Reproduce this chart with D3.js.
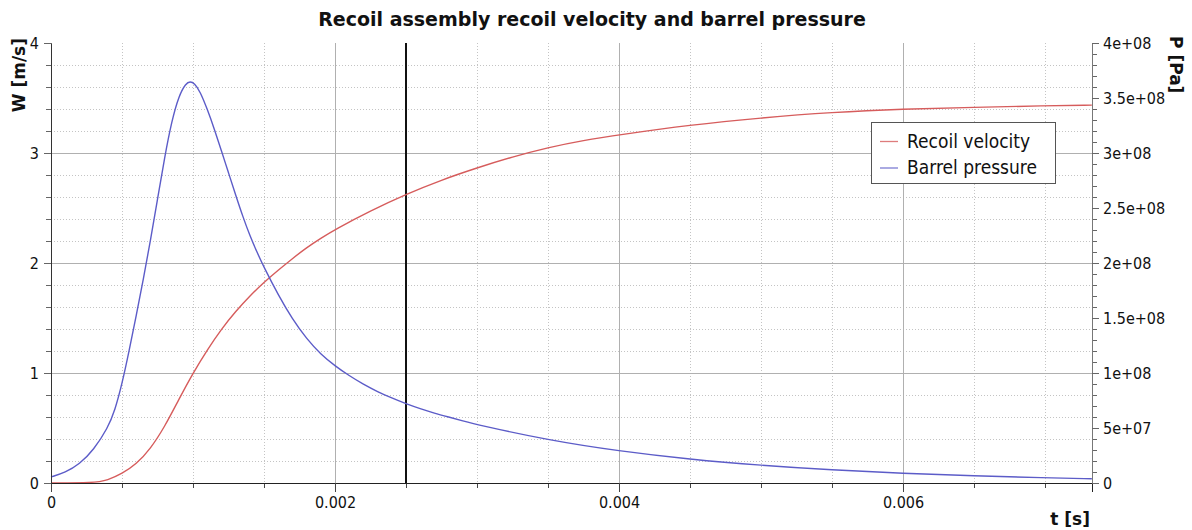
<!DOCTYPE html>
<html>
<head>
<meta charset="utf-8">
<script src="https://cdn.jsdelivr.net/npm/d3@7/dist/d3.min.js"></script>
<style>
  html, body { margin: 0; padding: 0; background: #fff; }
  svg { display: block; }
  .cond { font-family: "DejaVu Sans Condensed", "DejaVu Sans", sans-serif; font-stretch: condensed; }
  .bold { font-family: "DejaVu Sans", sans-serif; font-weight: bold; }
</style>
</head>
<body>
<svg id="chart" width="1192" height="530"></svg>
<script>
// ---- data ----
const velTime = [0, 0.0003, 0.0004, 0.0005, 0.0006, 0.0007, 0.0008, 0.0009, 0.001, 0.0011, 0.0012, 0.0013, 0.0014, 0.0015, 0.0016, 0.0017, 0.0018, 0.0019, 0.002, 0.00225, 0.0025, 0.00275, 0.003, 0.00325, 0.0035, 0.00375, 0.004, 0.0045, 0.005, 0.0055, 0.006, 0.0065, 0.007, 0.00733];
const velValues = [0, 0, 0.025, 0.085, 0.17, 0.31, 0.51, 0.76, 1.0, 1.21, 1.40, 1.56, 1.70, 1.825, 1.935, 2.04, 2.14, 2.225, 2.305, 2.475, 2.625, 2.755, 2.865, 2.965, 3.05, 3.115, 3.165, 3.255, 3.32, 3.37, 3.40, 3.415, 3.43, 3.435];

const presTime = [0, 0.0001, 0.0002, 0.0003, 0.0004, 0.00045, 0.0005, 0.00055, 0.0006, 0.00065, 0.0007, 0.00075, 0.0008, 0.00085, 0.0009, 0.00095, 0.00098, 0.00101, 0.00105, 0.0011, 0.00115, 0.0012, 0.00125, 0.0013, 0.00135, 0.0014, 0.00145, 0.0015, 0.0016, 0.0017, 0.0018, 0.0019, 0.002, 0.0021, 0.0022, 0.0023, 0.0024, 0.0025, 0.0026, 0.0027, 0.0028, 0.0029, 0.003, 0.0035, 0.004, 0.0045, 0.005, 0.0055, 0.006, 0.0065, 0.007, 0.00733];
const presValues = [5.5e6, 9.5e6, 1.7e7, 3.0e7, 5.0e7, 6.6e7, 9.0e7, 1.2e8, 1.52e8, 1.85e8, 2.2e8, 2.58e8, 2.96e8, 3.29e8, 3.52e8, 3.635e8, 3.65e8, 3.635e8, 3.56e8, 3.40e8, 3.22e8, 3.02e8, 2.82e8, 2.62e8, 2.425e8, 2.25e8, 2.10e8, 1.96e8, 1.71e8, 1.49e8, 1.31e8, 1.17e8, 1.065e8, 9.75e7, 8.97e7, 8.3e7, 7.72e7, 7.2e7, 6.75e7, 6.35e7, 6.0e7, 5.65e7, 5.3e7, 3.9e7, 2.9e7, 2.15e7, 1.6e7, 1.18e7, 8.8e6, 6.5e6, 4.7e6, 3.8e6];

const markerTime = 0.0025;

const xTicks = [0, 0.002, 0.004, 0.006];
const yLeftTicks = [0, 1, 2, 3, 4];
const yRightTicks = [0, 5e7, 1e8, 1.5e8, 2e8, 2.5e8, 3e8, 3.5e8, 4e8];

const seriesNames = ["Recoil velocity", "Barrel pressure"];
const seriesColors = ["#d65c5c", "#5c5cc8"];

const titleText = "Recoil assembly recoil velocity and barrel pressure";
const xLabel = "t [s]";
const yLeftLabel = "W [m/s]";
const yRightLabel = "P [Pa]";

// ---- layout ----
const L = 51, R = 1092, T = 43, B = 483;
const xMax = 0.007331;

const svg = d3.select("#chart");
svg.append("rect").attr("width", 1192).attr("height", 530).attr("fill", "#fff");

const x = d3.scaleLinear().domain([0, xMax]).range([L, R]);
const yL = d3.scaleLinear().domain([0, 4]).range([B, T]);
const yR = d3.scaleLinear().domain([0, 4e8]).range([B, T]);

const px = v => Math.round(v) + 0.5;

// minor grid
const xMinor = d3.range(1, 15).map(i => i * 0.0005).filter(v => v <= xMax && Math.abs(v / 0.002 - Math.round(v / 0.002)) > 1e-6);
const yMinor = d3.range(1, 20).map(i => i * 0.2).filter(v => Math.abs(v - Math.round(v)) > 1e-6);
const grid = svg.append("g");
grid.selectAll(".vmin").data(xMinor).join("line")
  .attr("x1", d => px(x(d))).attr("x2", d => px(x(d)))
  .attr("y1", T).attr("y2", B)
  .attr("stroke", "#c4c4c4").attr("stroke-dasharray", "1,2");
grid.selectAll(".hmin").data(yMinor).join("line")
  .attr("y1", d => px(yL(d))).attr("y2", d => px(yL(d)))
  .attr("x1", L).attr("x2", R)
  .attr("stroke", "#c4c4c4").attr("stroke-dasharray", "1,2");
// major grid
grid.selectAll(".vmaj").data(xTicks.filter(d => d > 0)).join("line")
  .attr("x1", d => px(x(d))).attr("x2", d => px(x(d)))
  .attr("y1", T).attr("y2", B)
  .attr("stroke", "#b0b0b0");
grid.selectAll(".hmaj").data(yLeftTicks.filter(d => d > 0 && d < 4)).join("line")
  .attr("y1", d => px(yL(d))).attr("y2", d => px(yL(d)))
  .attr("x1", L).attr("x2", R)
  .attr("stroke", "#b0b0b0");

// marker line
svg.append("line")
  .attr("x1", Math.round(x(markerTime))).attr("x2", Math.round(x(markerTime)))
  .attr("y1", T).attr("y2", B)
  .attr("stroke", "#111").attr("stroke-width", 2);

// series
const velData = velTime.map((t, i) => [t, velValues[i]]);
const presData = presTime.map((t, i) => [t, presValues[i]]);
svg.append("path").datum(velData)
  .attr("fill", "none").attr("stroke", seriesColors[0]).attr("stroke-width", 1.4)
  .attr("d", d3.line().x(d => x(d[0])).y(d => yL(d[1])).curve(d3.curveBasis));
svg.append("path").datum(presData)
  .attr("fill", "none").attr("stroke", seriesColors[1]).attr("stroke-width", 1.4)
  .attr("d", d3.line().x(d => x(d[0])).y(d => yR(d[1])).curve(d3.curveBasis));

// axes
function styleAxis(g, lineColor, tickColor) {
  g.select(".domain").attr("stroke", lineColor);
  g.selectAll(".tick line").attr("stroke", tickColor);
  g.selectAll(".tick text").attr("fill", "#111").attr("class", "cond").attr("font-size", 16);
  g.attr("font-family", null).attr("font-size", null);
}

// minor ticks
const xMinorTicks = d3.range(1, 15).map(i => i * 0.0005).filter(v => v <= xMax);
const gxm = svg.append("g").attr("transform", `translate(0,${B})`)
  .call(d3.axisBottom(x).tickValues(xMinorTicks).tickSize(5).tickFormat(""));
gxm.select(".domain").remove(); gxm.selectAll(".tick line").attr("stroke", "#444");
const gylm = svg.append("g").attr("transform", `translate(${L},0)`)
  .call(d3.axisLeft(yL).tickValues(d3.range(0, 21).map(i => i * 0.2)).tickSize(5).tickFormat(""));
gylm.select(".domain").remove(); gylm.selectAll(".tick line").attr("stroke", "#666");
const gyrm = svg.append("g").attr("transform", `translate(${R},0)`)
  .call(d3.axisRight(yR).tickValues(d3.range(0, 41).map(i => i * 1e7)).tickSize(5).tickFormat(""));
gyrm.select(".domain").remove(); gyrm.selectAll(".tick line").attr("stroke", "#666");

const gx = svg.append("g").attr("transform", `translate(0,${B})`)
  .call(d3.axisBottom(x).tickValues(xTicks).tickSize(9).tickPadding(5)
    .tickFormat(d => d === 0 ? "0" : d3.format(".3f")(d)));
styleAxis(gx, "#222", "#444");

const gyl = svg.append("g").attr("transform", `translate(${L},0)`)
  .call(d3.axisLeft(yL).tickValues(yLeftTicks).tickSize(7).tickPadding(5).tickFormat(d3.format("d")));
styleAxis(gyl, "#333", "#666");

function sci(d) {
  if (d === 0) return "0";
  const e = Math.floor(Math.log10(d));
  const m = +(d / Math.pow(10, e)).toFixed(3);
  return `${m}e+${String(e).padStart(2, "0")}`;
}
const gyr = svg.append("g").attr("transform", `translate(${R},0)`)
  .call(d3.axisRight(yR).tickValues(yRightTicks).tickSize(7).tickPadding(4).tickFormat(sci));
styleAxis(gyr, "#777", "#666");

// title and axis labels
svg.append("text").attr("class", "bold").attr("font-size", 19)
  .attr("x", 592).attr("y", 26).attr("text-anchor", "middle").attr("fill", "#111")
  .text(titleText);
svg.append("text").attr("class", "bold").attr("font-size", 17)
  .attr("x", 1090).attr("y", 525).attr("text-anchor", "end").attr("fill", "#111")
  .text(xLabel);
svg.append("text").attr("class", "bold").attr("font-size", 17)
  .attr("transform", "translate(25,38) rotate(-90)").attr("text-anchor", "end").attr("fill", "#111")
  .text(yLeftLabel);
svg.append("text").attr("class", "bold").attr("font-size", 17)
  .attr("transform", "translate(1170,36) rotate(90)").attr("text-anchor", "start").attr("fill", "#111")
  .text(yRightLabel);

// legend
const lg = svg.append("g");
lg.append("rect").attr("x", 871.5).attr("y", 122.5).attr("width", 184).attr("height", 61)
  .attr("fill", "#fff").attr("stroke", "#555");
seriesNames.forEach((name, i) => {
  const cy = 141 + i * 26.5;
  lg.append("line").attr("x1", 880).attr("x2", 898).attr("y1", cy + 0.5).attr("y2", cy + 0.5)
    .attr("stroke", seriesColors[i]).attr("stroke-width", 1.3).attr("opacity", 0.8);
  lg.append("text").attr("class", "cond").attr("font-size", 19)
    .attr("x", 907).attr("y", cy).attr("dy", "0.35em").attr("fill", "#111").text(name);
});
</script>
</body>
</html>
